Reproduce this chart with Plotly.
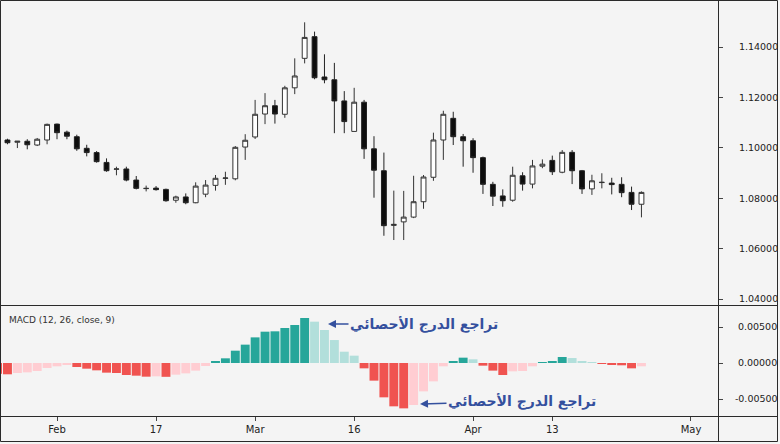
import pandas as pd
import plotly.graph_objects as go

# ---- categories (trading days) ----
dates = [d.strftime("%Y-%m-%d") for d in pd.bdate_range("2020-01-24", "2020-04-24")]

# ---- OHLC values ----
opens = [1.1045, 1.1031, 1.1022, 1.1026, 1.1011, 1.1031,
         1.1094, 1.1062, 1.1044, 1.0998, 1.0981, 1.0942, 1.0915, 1.0916, 1.0872, 1.0838,
         1.0840, 1.0835, 1.0792, 1.0805, 1.0782, 1.0816, 1.0851, 1.0879, 1.0877, 1.1003,
         1.1043, 1.1134, 1.1167, 1.1133, 1.1238, 1.1355, 1.1441, 1.1281, 1.1270, 1.1186,
         1.1065, 1.1181, 1.0996, 1.0909, 1.0692, 1.0706, 1.0725, 1.0786, 1.0883, 1.1031,
         1.1117, 1.1044, 1.1028, 1.0961, 1.0855, 1.0809, 1.0792, 1.0889, 1.0856, 1.0927,
         1.0950, 1.0903, 1.0982, 1.0909, 1.0837, 1.0862, 1.0860, 1.0855, 1.0823, 1.0776]
highs = [1.1050, 1.1036, 1.1027, 1.1034, 1.1039, 1.1096,
         1.1096, 1.1068, 1.1052, 1.1012, 1.0987, 1.0958, 1.0925, 1.0925, 1.0888, 1.0850,
         1.0848, 1.0838, 1.0810, 1.0819, 1.0863, 1.0872, 1.0892, 1.0905, 1.1007, 1.1054,
         1.1190, 1.1217, 1.1190, 1.1246, 1.1355, 1.1498, 1.1461, 1.1371, 1.1337, 1.1225,
         1.1238, 1.1190, 1.1046, 1.0981, 1.0830, 1.0829, 1.0889, 1.0892, 1.1060, 1.1147,
         1.1143, 1.1055, 1.1038, 1.0965, 1.0865, 1.0835, 1.0925, 1.0903, 1.0952, 1.0954,
         1.0969, 1.0991, 1.0991, 1.0912, 1.0893, 1.0899, 1.0881, 1.0883, 1.0846, 1.0827]
lows = [1.1036, 1.1014, 1.0999, 1.0994, 1.1007, 1.1014,
        1.1034, 1.1034, 1.0988, 1.0966, 1.0941, 1.0905, 1.0891, 1.0867, 1.0835, 1.0827,
        1.0830, 1.0786, 1.0782, 1.0776, 1.0780, 1.0804, 1.0830, 1.0853, 1.0871, 1.0952,
        1.1035, 1.1094, 1.1096, 1.1119, 1.1213, 1.1335, 1.1272, 1.1256, 1.1058, 1.1058,
        1.1065, 1.0956, 1.0802, 1.0651, 1.0634, 1.0634, 1.0721, 1.0758, 1.0869, 1.0952,
        1.1011, 1.0925, 1.0901, 1.0817, 1.0769, 1.0766, 1.0786, 1.0830, 1.0839, 1.0919,
        1.0892, 1.0899, 1.0856, 1.0817, 1.0813, 1.0839, 1.0815, 1.0804, 1.0753, 1.0724]
closes = [1.1040, 1.1020, 1.1026, 1.1012, 1.1034, 1.1093,
          1.1060, 1.1046, 1.0996, 1.0981, 1.0945, 1.0909, 1.0916, 1.0872, 1.0839, 1.0839,
          1.0834, 1.0790, 1.0805, 1.0782, 1.0848, 1.0852, 1.0879, 1.0880, 1.1002, 1.1030,
          1.1133, 1.1167, 1.1134, 1.1238, 1.1285, 1.1438, 1.1278, 1.1270, 1.1186, 1.1104,
          1.1181, 1.0996, 1.0911, 1.0691, 1.0696, 1.0725, 1.0786, 1.0884, 1.1031, 1.1133,
          1.1044, 1.1028, 1.0961, 1.0855, 1.0808, 1.0790, 1.0891, 1.0856, 1.0928, 1.0935,
          1.0905, 1.0982, 1.0909, 1.0837, 1.0869, 1.0863, 1.0854, 1.0822, 1.0776, 1.0823]

# ---- MACD histogram values ----
hist = [-0.00150, -0.00157, -0.00139, -0.00130, -0.00111, -0.00069,
        -0.00046, -0.00028, -0.00056, -0.00079, -0.00102, -0.00134, -0.00139, -0.00167,
        -0.00176, -0.00190, -0.00185, -0.00192, -0.00162, -0.00144, -0.00106, -0.00042,
        0.00023, 0.00065, 0.00171, 0.00255, 0.00356, 0.00435, 0.00440, 0.00486, 0.00528,
        0.00625, 0.00574, 0.00458, 0.00319, 0.00157, 0.00102, -0.00074, -0.00245, -0.00477,
        -0.00602, -0.00630, -0.00583, -0.00394, -0.00255, -0.00046, 0.00028, 0.00074,
        0.00051, -0.00037, -0.00106, -0.00167, -0.00116, -0.00111, -0.00046, 0.00010,
        0.00019, 0.00083, 0.00069, 0.00019, 0.00010, -0.00005, -0.00014, -0.00032,
        -0.00074, -0.00046]

# ---- axis ticks ----
tick_dates = ["2020-02-03", "2020-02-17", "2020-03-02", "2020-03-16", "2020-04-01", "2020-04-13", "2020-05-01"]
tick_text = ["Feb", "17", "Mar", "16", "Apr", "13", "May"]
price_ticks = [1.04, 1.06, 1.08, 1.10, 1.12, 1.14]
price_text = ["1.04000", "1.06000", "1.08000", "1.10000", "1.12000", "1.14000"]
macd_ticks = [-0.005, 0.0, 0.005]
macd_text = ["-0.00500", "\u00a00.00000", "\u00a00.00500"]
label_ar = "تراجع الدرج الأحصائي"

# positions on a trading-day index axis
start = dates[0]
def pos(d):
    return len(pd.bdate_range(start, d)) - 1
xpos = [pos(d) for d in dates]
tickpos = [pos(d) for d in tick_dates]

# histogram colours (TradingView rule)
colors = []
for i, h in enumerate(hist):
    prev = hist[i - 1] if i > 0 else None
    if h >= 0:
        colors.append("#26A69A" if (prev is None or h >= prev) else "#B2DFDB")
    else:
        colors.append("#F05350" if (prev is None or h < prev) else "#FFCDD2")

W, H = 780, 444
BG = "#F4F4F4"
LINE = "#2a2a2a"
px_day = 9.906
x_left = 6 - 57 / px_day
x_right = 6 + (718 - 57) / px_day

fig = go.Figure()
fig.add_trace(go.Candlestick(
    x=xpos, open=opens, high=highs, low=lows, close=closes,
    increasing=dict(line=dict(color="#333333", width=1), fillcolor="#FFFFFF"),
    decreasing=dict(line=dict(color="#222222", width=1), fillcolor="#0d0d0d"),
    whiskerwidth=0, xaxis="x", yaxis="y", hoverinfo="skip"))
fig.add_trace(go.Bar(
    x=xpos, y=hist, marker=dict(color=colors, line=dict(width=0)),
    xaxis="x", yaxis="y2", hoverinfo="skip"))

font_ticks = dict(family="DejaVu Sans", size=9.5, color="#222222")

fig.update_layout(
    template="none",
    width=W, height=H,
    margin=dict(l=0, r=0, t=0, b=0, autoexpand=False),
    paper_bgcolor=BG, plot_bgcolor=BG,
    showlegend=False, bargap=0.1,
    xaxis=dict(domain=[0, 718 / W], range=[x_left, x_right], anchor="y2", automargin=False,
               tickvals=tickpos, ticktext=tick_text, ticks="outside", ticklen=4,
               tickcolor="#444444", showgrid=False, zeroline=False, showline=False,
               rangeslider=dict(visible=False), tickfont=dict(family="DejaVu Sans", size=10, color="#222222")),
    yaxis=dict(domain=[1 - 305 / H, 1], range=[1.14 - 258 / 2520, 1.14 + 47 / 2520],
               side="right", anchor="x", tickvals=price_ticks, ticktext=price_text, automargin=False,
               ticks="outside", ticklen=4, tickcolor="#444444", showgrid=False,
               zeroline=False, showline=False, tickfont=font_ticks, ticklabelstandoff=14),
    yaxis2=dict(domain=[1 - 416 / H, 1 - 305 / H], range=[-53 / 7200, 58 / 7200],
                side="right", anchor="x", tickvals=macd_ticks, ticktext=macd_text, automargin=False,
                ticks="outside", ticklen=4, tickcolor="#444444", showgrid=False,
                zeroline=False, showline=False, tickfont=font_ticks, ticklabelstandoff=10),
)

# frame and separators
def pline(x0, y0, x1, y1):
    fig.add_shape(type="line", xref="paper", yref="paper",
                  x0=x0 / W, x1=x1 / W, y0=1 - y0 / H, y1=1 - y1 / H,
                  line=dict(color=LINE, width=1))
pline(0.5, 0.5, 777.5, 0.5)
pline(0.5, 0.5, 0.5, 441.5)
pline(0.5, 441.5, 777.5, 441.5)
pline(777.5, 0.5, 777.5, 441.5)
pline(0, 305.5, 777.5, 305.5)
pline(0, 416.5, 777.5, 416.5)
pline(718.5, 0, 718.5, 441.5)

fig.add_annotation(xref="paper", yref="paper", x=7 / W, y=1 - 320 / H,
                   xanchor="left", yanchor="middle", showarrow=False,
                   text="MACD (12, 26, close, 9)",
                   font=dict(family="DejaVu Sans", size=9, color="#333333"))

blue = "#34509E"
fig.add_annotation(xref="x", yref="y2", x=6 + (328 - 57) / px_day, y=(363 - 324) / 7200,
                   text="<b>" + label_ar + "</b>", showarrow=True, ax=96, ay=0,
                   arrowhead=2, arrowsize=1, arrowwidth=1.6, arrowcolor=blue,
                   font=dict(family="DejaVu Sans", size=14, color=blue))
fig.add_annotation(xref="x", yref="y2", x=6 + (420 - 57) / px_day, y=(363 - 404) / 7200,
                   text="<b>" + label_ar + "</b>", showarrow=True, ax=102, ay=-3,
                   arrowhead=2, arrowsize=1, arrowwidth=1.6, arrowcolor=blue,
                   font=dict(family="DejaVu Sans", size=14, color=blue))

fig.write_html("out.html")
